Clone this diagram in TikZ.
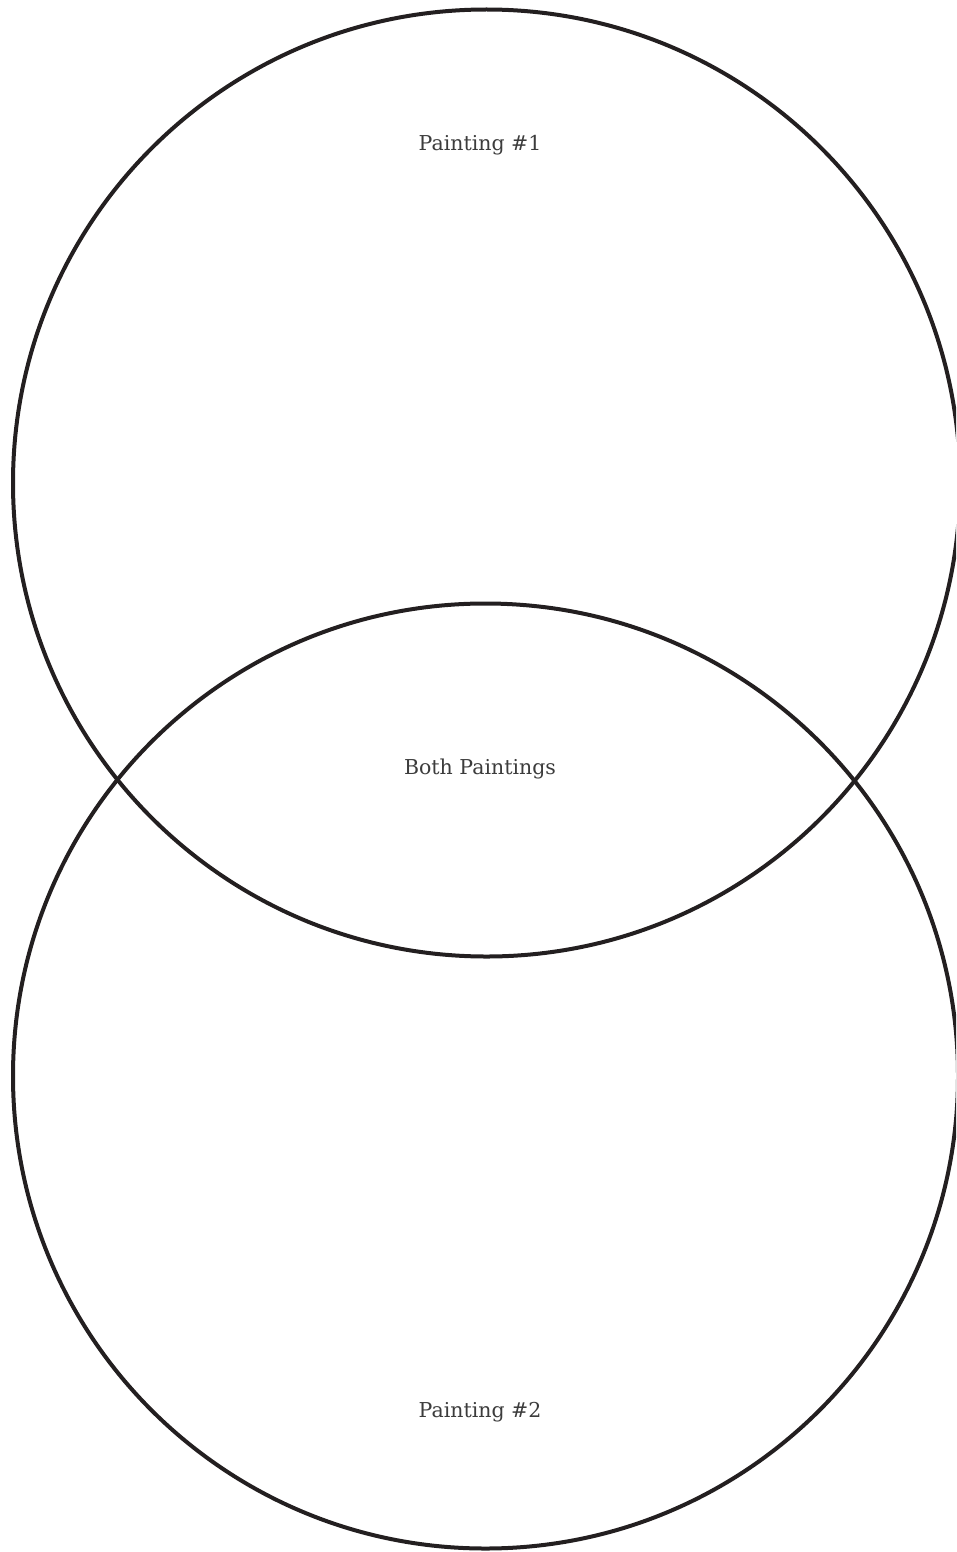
\documentclass[tikz,border=0pt]{standalone}
\usepackage{fontspec}
\setmainfont{DejaVu Serif}
\definecolor{ring}{HTML}{231F20}
\definecolor{label}{HTML}{3C3C3C}
\tikzset{
  ringline/.style={draw=ring, line width=4pt},
  lbl/.style={text=label, font=\fontsize{20.5}{24}\selectfont, inner sep=0pt}
}
\begin{document}
\begin{tikzpicture}[x=1pt,y=-1pt]
\useasboundingbox (0,0) rectangle (956,1552);
\begin{scope}
\clip (0,0) rectangle (956,1552);
\draw[ringline] (486.5,483) circle (473.5);
\draw[ringline] (485.5,1076) circle (472.5);
\end{scope}
\node[lbl] (p1) at (480,145) {Painting \#1};
\node[lbl] (both) at (480,769) {Both Paintings};
\node[lbl] (p2) at (480,1412) {Painting \#2};
\end{tikzpicture}
\end{document}
